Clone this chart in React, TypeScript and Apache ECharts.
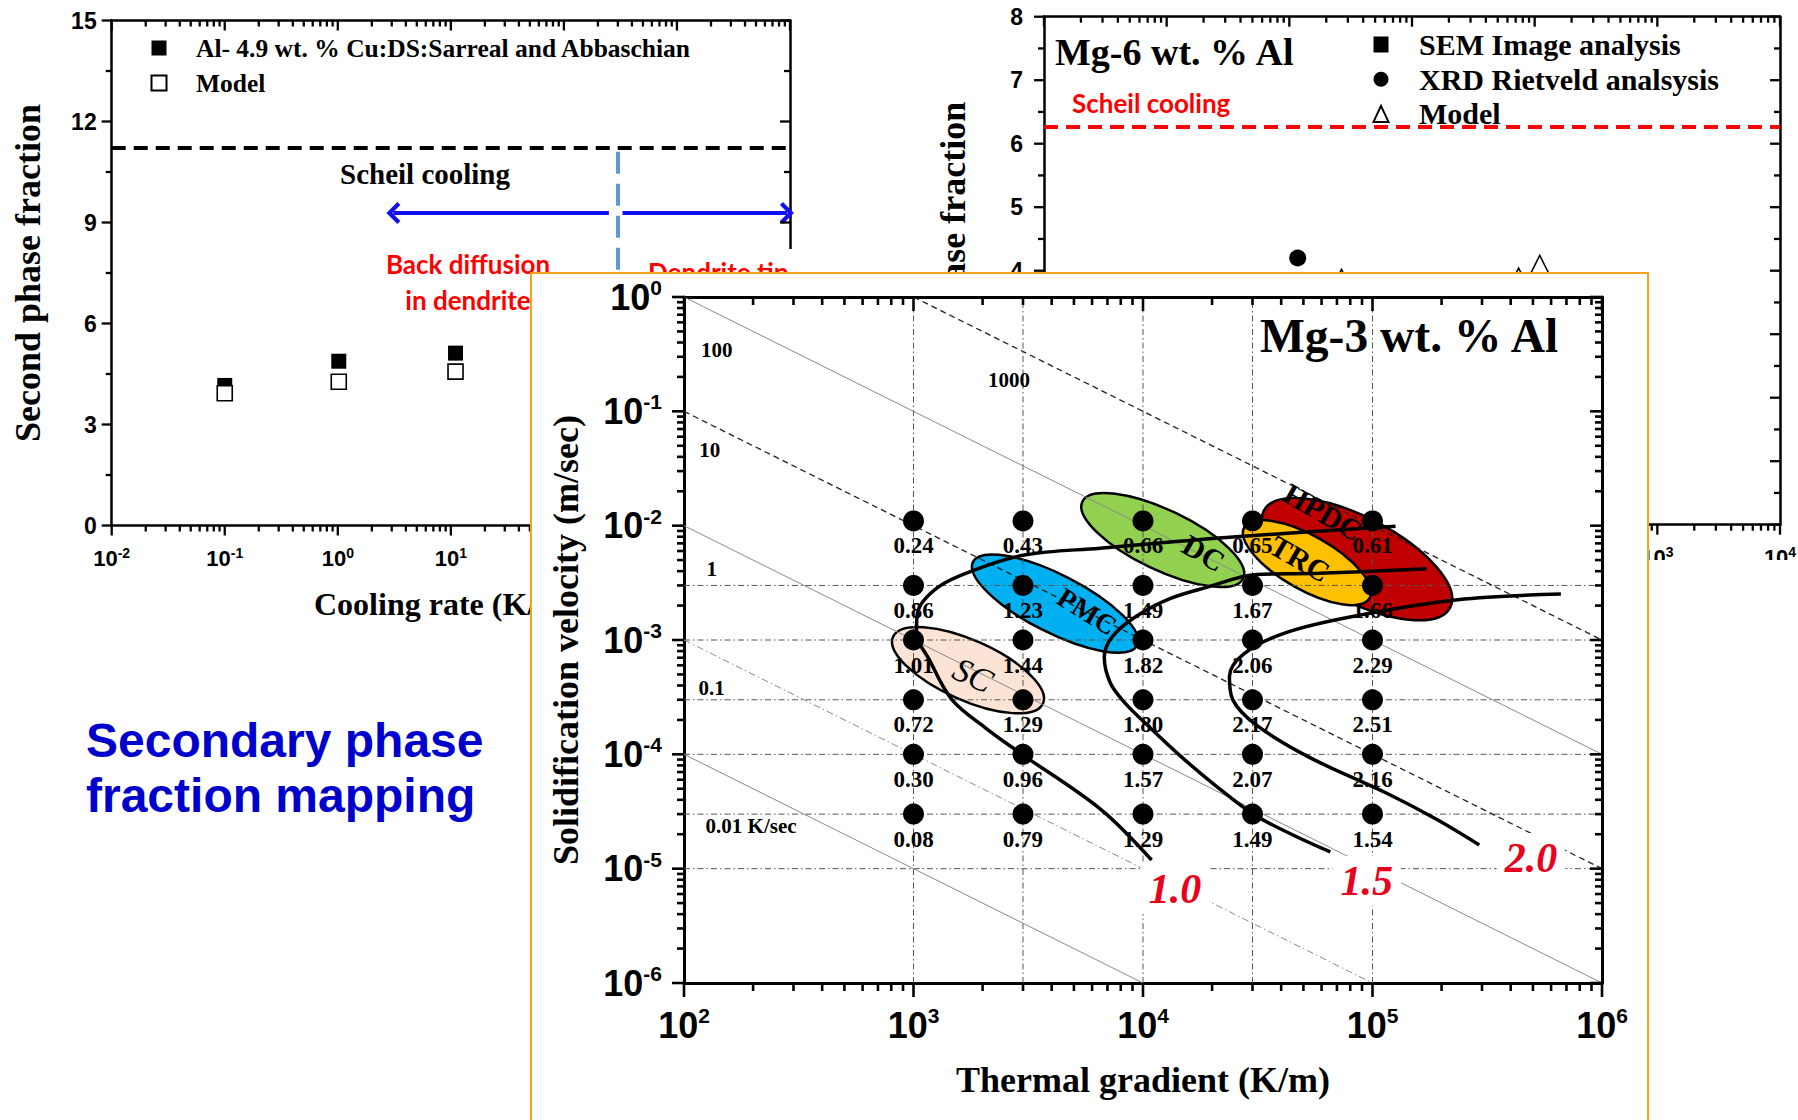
import React, { useEffect, useRef } from 'react';
import * as echarts from 'echarts';

// ---------------- fonts / colours ----------------
const SERIF = "'Liberation Serif', 'Times New Roman', serif";
const SANS = "'Liberation Sans', Arial, sans-serif";
const NARROW = "'Liberation Sans Narrow', 'Liberation Sans', Arial, sans-serif";
const CAL = "Lato, 'Open Sans', sans-serif";
const BLUE = '#1010F0';
const RED = '#FF0000';

// ---------------- panel 1 : Al-4.9 wt.% Cu ----------------
const alCuSeriesNames = ['Al- 4.9 wt. % Cu:DS:Sarreal and Abbaschian', 'Model'];
const alCuRates = [0.1, 1.02, 11];
const alCuMeasured = [4.16, 4.88, 5.12];
const alCuModel = [3.93, 4.27, 4.57];
const alCuScheil = 11.22;
const alCuBoundaryRate = 300;
const alCuBoundaryTop = 11.1;
const alCuArrowLevel = 9.28;
const alCuArrowLeft = [3.1, 250];
const alCuArrowRight = [330, 9400];
const alCuRateExponents = [-2, 4];
const alCuFractionTicks = [0, 15, 3];

// ---------------- panel 2 : Mg-6 wt.% Al ----------------
const mg6SeriesNames = ['SEM Image analysis', 'XRD Rietveld analsysis', 'Model'];
const mg6SemRates = [110];
const mg6SemValues = [3.88];
const mg6XrdRates = [1.17];
const mg6XrdValues = [4.2];
const mg6ModelRates = [2.66, 74, 110];
const mg6ModelValues = [3.88, 3.9, 4.1];
const mg6Scheil = 6.27;
const mg6RateExponents = [-2, 4];
const mg6FractionTicks = [0, 8, 1];

// ---------------- panel 3 : Mg-3 wt.% Al map ----------------
const gradientExponents = [2, 6];
const velocityExponents = [-6, 0];
const mapGradients = [1e3, 3e3, 1e4, 3e4, 1e5];
const mapVelocities = [0.011, 3e-3, 1e-3, 3e-4, 1e-4, 3e-5];
const fractionAt1e3 = [0.24, 0.86, 1.01, 0.72, 0.3, 0.08];
const fractionAt3e3 = [0.43, 1.23, 1.44, 1.29, 0.96, 0.79];
const fractionAt1e4 = [0.66, 1.49, 1.82, 1.8, 1.57, 1.29];
const fractionAt3e4 = [0.65, 1.67, 2.06, 2.17, 2.07, 1.49];
const fractionAt1e5 = [0.61, 1.66, 2.29, 2.51, 2.16, 1.54];
const gridLineGradients = [1e3, 3e3, 1e4, 3e4, 1e5];
const gridLineVelocities = [3e-3, 1e-3, 3e-4, 1e-4, 3e-5, 1e-5];
const coolingRateValues = [1000, 100, 10, 1, 0.1, 0.01];
const coolingRateText = ['1000', '100', '10', '1', '0.1', '0.01 K/sec'];
const coolingRateFrom = [[1e3, 1], [1e2, 1], [1e2, 1e-1], [1e2, 1e-2], [1e2, 1e-3], [1e2, 1e-4]];
const coolingRateTo = [[1e6, 1e-3], [1e6, 1e-4], [1e6, 1e-5], [1e6, 1e-6], [1e5, 1e-6], [1e4, 1e-6]];
const coolingRateLabelAt = [[2606, 0.189], [139, 0.346], [129.5, 0.0463], [132, 4.19e-3], [132, 3.8e-4], [196, 2.37e-5]];
const contourLevels = ['1.0', '1.5', '2.0'];
const contour10 = [[126000, 9.9e-3], [25500, 8.0e-3], [6490, 6.36e-3], [3030, 5.53e-3], [1850, 4.1e-3], [1280, 2.9e-3], [1040, 1.71e-3], [1030, 1.15e-3], [1170, 6.76e-4], [1470, 3.01e-4], [2070, 1.69e-4], [2930, 1.02e-4], [6560, 3.29e-5], [10900, 1.19e-5]];
const contour15 = [[172000, 4.2e-3], [58300, 3.83e-3], [31300, 3.74e-3], [19100, 2.9e-3], [13100, 2.3e-3], [9250, 1.59e-3], [7350, 1.07e-3], [6780, 7.09e-4], [7180, 4.27e-4], [8260, 2.88e-4], [10800, 1.69e-4], [14700, 9.5e-5], [20700, 5.33e-5], [30300, 2.99e-5], [44800, 1.98e-5], [65500, 1.4e-5]];
const contour20 = [[662000, 2.52e-3], [235000, 2.25e-3], [79800, 1.59e-3], [41400, 1.15e-3], [27600, 7.6e-4], [23800, 4.79e-4], [24600, 3.01e-4], [31000, 1.82e-4], [52600, 9.5e-5], [116000, 4.54e-5], [190000, 2.7e-5], [292000, 1.61e-5]];
const contourLabelAt = [[13770, 6.65e-6], [94400, 7.82e-6], [490000, 1.24e-5]];
const processNames = ['SC', 'PMC', 'DC', 'HPDC', 'TRC'];
const processCenters = [[1728, 5.45e-4], [4137, 2.08e-3], [12190, 7.48e-3], [85600, 5.1e-3], [51830, 4.75e-3]];

// ---------------- styles (not data) ----------------
const rateLineStyles = [
  { color: '#222', width: 1.3, type: [6, 4] },
  { color: '#8a8a8a', width: 1, type: 'solid' },
  { color: '#222', width: 1.3, type: [6, 4] },
  { color: '#8a8a8a', width: 1, type: 'solid' },
  { color: '#8a8a8a', width: 1, type: [7, 3, 1.5, 3] },
  { color: '#8a8a8a', width: 1, type: 'solid' },
];
const processStyles = [
  { rx: 82, ry: 30, angle: 24, fill: '#FBE3D5', dx: 5, dy: 5, textAngle: 25, fontSize: 34, fontStyle: 'italic', fontWeight: 'normal' },
  { rx: 92, ry: 29, angle: 27, fill: '#00B0F0', dx: 32, dy: 8, textAngle: 32, fontSize: 28, fontStyle: 'normal', fontWeight: 'bold' },
  { rx: 89, ry: 30, angle: 25.5, fill: '#92D050', dx: 41, dy: 13, textAngle: 30, fontSize: 30, fontStyle: 'normal', fontWeight: 'bold' },
  { rx: 105, ry: 42, angle: 27.5, fill: '#C00000', dx: -34, dy: -47, textAngle: 30, fontSize: 30, fontStyle: 'normal', fontWeight: 'bold' },
  { rx: 72, ry: 27, angle: 29.5, fill: '#FFC000', dx: -7, dy: -4, textAngle: 30, fontSize: 30, fontStyle: 'normal', fontWeight: 'bold' },
];
const CHEVRON = 'path://M0,11 L11,0 L22,11 L19,14 L11,6 L3,14 Z';

const lg = (v: number) => Math.log10(v);

function logLabel(fontSize: number, supSize: number, family: string, margin: number) {
  const base = { fontFamily: family, fontWeight: 'bold', color: '#000' };
  return {
    show: true,
    margin,
    formatter: (v: number) => `{b|10}{s|${Math.round(v)}}`,
    rich: {
      b: { ...base, fontSize, lineHeight: fontSize + 4 },
      s: { ...base, fontSize: supSize, lineHeight: supSize + 2, verticalAlign: 'top' },
    },
  };
}

function frameAxes(dim: 'x' | 'y', range: number[], step: number, cfg: any) {
  const [min, max] = range;
  const p0 = dim === 'x' ? 'bottom' : 'left';
  const p1 = dim === 'x' ? 'top' : 'right';
  const line = { color: '#000', width: cfg.spine };
  const base = {
    type: 'value', gridIndex: 0, min, max, interval: step,
    splitLine: { show: false }, minorSplitLine: { show: false },
    axisTick: { show: false }, minorTick: { show: false },
  };
  const label = cfg.log
    ? logLabel(cfg.fontSize, cfg.supSize, cfg.family, cfg.margin)
    : { show: true, margin: cfg.margin, fontFamily: cfg.family, fontWeight: 'bold', fontSize: cfg.fontSize, color: '#000' };
  return [
    {
      ...base, position: p0,
      axisLine: { show: true, onZero: false, lineStyle: line },
      axisLabel: label,
      name: cfg.name, nameLocation: 'middle', nameGap: cfg.nameGap, nameTextStyle: cfg.nameStyle, nameMoveOverlap: false,
    },
    {
      ...base, position: p1,
      axisLine: { show: true, onZero: false, lineStyle: line },
      axisLabel: { show: false },
    },
  ];
}

function tickPositions(range: number[], step: number, log: boolean) {
  const major: number[] = [];
  const minor: number[] = [];
  for (let v = range[0]; v <= range[1] + 1e-9; v += step) major.push(v);
  if (log) {
    for (let d = range[0]; d < range[1]; d++) for (let k = 2; k <= 9; k++) minor.push(d + Math.log10(k));
  } else {
    for (let v = range[0]; v < range[1]; v += step) minor.push(v + step / 2);
  }
  return { major, minor };
}

// frame ticks: outward on bottom/left, inward on top/right
function frameTicks(xRange: number[], xStep: number, xLog: boolean, yRange: number[], yStep: number, yLog: boolean, len: any) {
  const xt = tickPositions(xRange, xStep, xLog);
  const yt = tickPositions(yRange, yStep, yLog);
  const data: number[][] = [];
  xt.major.forEach((v) => { data.push([v, yRange[0], 0, 0]); data.push([v, yRange[0], 1, 0]); });
  xt.minor.forEach((v) => { data.push([v, yRange[0], 0, 1]); data.push([v, yRange[0], 1, 1]); });
  yt.major.forEach((v) => { data.push([xRange[0], v, 2, 0]); data.push([xRange[0], v, 3, 0]); });
  yt.minor.forEach((v) => { data.push([xRange[0], v, 2, 1]); data.push([xRange[0], v, 3, 1]); });
  return {
    type: 'custom', name: 'frame ticks', xAxisIndex: 0, yAxisIndex: 0, z: 10, silent: true, clip: false,
    data,
    renderItem: (_p: any, api: any) => {
      const x = api.value(0);
      const y = api.value(1);
      const side = api.value(2);
      const minorTick = api.value(3) === 1;
      let p: number[];
      let q: number[];
      if (side === 0) {
        const l = minorTick ? len.xMinor : len.xMajor;
        p = api.coord([x, yRange[0]]);
        q = [p[0], p[1] + l];
      } else if (side === 1) {
        const l = minorTick ? len.xMinor : len.xMajor;
        p = api.coord([x, yRange[1]]);
        q = [p[0], p[1] + l];
      } else if (side === 2) {
        const l = minorTick ? len.yMinor : len.yMajor;
        p = api.coord([xRange[0], y]);
        q = [p[0] - l, p[1]];
      } else {
        const l = minorTick ? len.yMinor : len.yMajor;
        p = api.coord([xRange[1], y]);
        q = [p[0] - l, p[1]];
      }
      return {
        type: 'line',
        shape: { x1: p[0], y1: p[1], x2: q[0], y2: q[1] },
        style: { stroke: '#000', lineWidth: len.width },
      };
    },
  };
}

function legendFormatter(gap: number) {
  return {
    formatter: (name: string) => `{g|}${name}`,
    rich: { g: { width: gap } },
  };
}

function optionA() {
  const arrowLine = { color: BLUE, width: 4, type: 'solid' };
  const lf = legendFormatter(24.5);
  return {
    animation: false,
    backgroundColor: 'transparent',
    grid: { left: 111.7, top: 20.5, width: 678.3, height: 505, containLabel: false, outerBoundsMode: 'none' },
    legend: {
      orient: 'vertical', left: 150.5, top: 35, padding: 0, itemWidth: 15, itemHeight: 15, itemGap: 9,
      selectedMode: false, formatter: lf.formatter,
      textStyle: { fontFamily: SERIF, fontWeight: 'bold', fontSize: 25.5, lineHeight: 26, color: '#000', rich: lf.rich },
      data: alCuSeriesNames,
    },
    xAxis: frameAxes('x', alCuRateExponents, 1, {
      log: true, spine: 2.5, fontSize: 22, supSize: 14, family: NARROW, margin: 20,
      name: 'Cooling rate (K/sec)', nameGap: 62,
      nameStyle: { fontFamily: SERIF, fontWeight: 'bold', fontSize: 32, color: '#000' },
    }),
    yAxis: frameAxes('y', [alCuFractionTicks[0], alCuFractionTicks[1]], alCuFractionTicks[2], {
      log: false, spine: 2.5, fontSize: 23, family: NARROW, margin: 15,
      name: 'Second phase fraction', nameGap: 66,
      nameStyle: { fontFamily: SERIF, fontWeight: 'bold', fontSize: 36, color: '#000' },
    }),
    series: [
      frameTicks(alCuRateExponents, 1, true, [alCuFractionTicks[0], alCuFractionTicks[1]], alCuFractionTicks[2], false,
        { xMajor: 10, xMinor: 6, yMajor: 10, yMinor: 6, width: 2.3 }),
      {
        name: alCuSeriesNames[0], type: 'scatter', xAxisIndex: 0, yAxisIndex: 0, z: 3,
        symbol: 'rect', symbolSize: 15, itemStyle: { color: '#000', opacity: 1 },
        data: alCuRates.map((r, i) => [lg(r), alCuMeasured[i]]),
      },
      {
        name: alCuSeriesNames[1], type: 'scatter', xAxisIndex: 0, yAxisIndex: 0, z: 4,
        symbol: 'rect', symbolSize: 15, itemStyle: { color: '#fff', borderColor: '#000', borderWidth: 1.6, opacity: 1 },
        data: alCuRates.map((r, i) => [lg(r), alCuModel[i]]),
        markLine: {
          silent: true, symbol: ['none', 'none'], label: { show: false },
          data: [
            { yAxis: alCuScheil, lineStyle: { color: '#000', width: 4, type: [14, 8] } },
            [
              { coord: [lg(alCuBoundaryRate), alCuBoundaryTop], lineStyle: { color: '#5B9BD5', width: 4, type: [22, 10] } },
              { coord: [lg(alCuBoundaryRate), 0] },
            ],
            [
              { coord: [lg(alCuArrowLeft[0]), alCuArrowLevel], symbol: CHEVRON, symbolSize: [22, 14], lineStyle: arrowLine, itemStyle: { color: BLUE } },
              { coord: [lg(alCuArrowLeft[1]), alCuArrowLevel], symbol: 'none' },
            ],
            [
              { coord: [lg(alCuArrowRight[0]), alCuArrowLevel], symbol: 'none', lineStyle: arrowLine, itemStyle: { color: BLUE } },
              { coord: [lg(alCuArrowRight[1]), alCuArrowLevel], symbol: CHEVRON, symbolSize: [22, 14] },
            ],
          ],
        },
      },
    ],
    graphic: [
      { type: 'rect', z: 20, shape: { x: 642, y: 249, width: 188, height: 26 }, style: { fill: '#fff' } },
      { type: 'text', z: 21, x: 425, y: 174, style: { text: 'Scheil cooling', fontFamily: SERIF, fontWeight: 'bold', fontSize: 29, fill: '#000', align: 'center', verticalAlign: 'middle' } },
      { type: 'text', z: 21, x: 468, y: 264, style: { text: 'Back diffusion', fontFamily: CAL, fontWeight: 'bold', fontSize: 26, fill: RED, align: 'center', verticalAlign: 'middle' } },
      { type: 'text', z: 21, x: 468, y: 300, style: { text: 'in dendrite', fontFamily: CAL, fontWeight: 'bold', fontSize: 26, fill: RED, align: 'center', verticalAlign: 'middle' } },
      { type: 'text', z: 21, x: 648, y: 272, style: { text: 'Dendrite tip', fontFamily: CAL, fontWeight: 'bold', fontSize: 26, fill: RED, align: 'left', verticalAlign: 'middle' } },
      { type: 'text', z: 21, x: 86, y: 740, style: { text: 'Secondary phase', fontFamily: SANS, fontWeight: 'bold', fontSize: 48, fill: '#0000CC', align: 'left', verticalAlign: 'middle' } },
      { type: 'text', z: 21, x: 86, y: 795.5, style: { text: 'fraction mapping', fontFamily: SANS, fontWeight: 'bold', fontSize: 48, fill: '#0000CC', align: 'left', verticalAlign: 'middle' } },
    ],
  };
}

function optionB() {
  const lf = legendFormatter(25.5);
  return {
    animation: false,
    backgroundColor: 'transparent',
    title: { text: 'Mg-6 wt. % Al', left: 175, top: 32.7, padding: 0, textStyle: { fontFamily: SERIF, fontWeight: 'bold', fontSize: 38, color: '#000' } },
    grid: { left: 164, top: 16.7, width: 736, height: 508, containLabel: false, outerBoundsMode: 'none' },
    legend: {
      orient: 'vertical', left: 492.5, top: 29.5, padding: 0, itemWidth: 15, itemHeight: 16, itemGap: 4.7,
      selectedMode: false, formatter: lf.formatter,
      textStyle: { fontFamily: SERIF, fontWeight: 'bold', fontSize: 30, lineHeight: 30, color: '#000', rich: lf.rich },
      data: mg6SeriesNames,
    },
    xAxis: frameAxes('x', mg6RateExponents, 1, {
      log: true, spine: 2.5, fontSize: 22, supSize: 14, family: NARROW, margin: 20,
      name: 'Cooling rate (K/sec)', nameGap: 62,
      nameStyle: { fontFamily: SERIF, fontWeight: 'bold', fontSize: 32, color: '#000' },
    }),
    yAxis: frameAxes('y', [mg6FractionTicks[0], mg6FractionTicks[1]], mg6FractionTicks[2], {
      log: false, spine: 2.5, fontSize: 23, family: NARROW, margin: 21,
      name: 'Second phase fraction', nameGap: 73,
      nameStyle: { fontFamily: SERIF, fontWeight: 'bold', fontSize: 36, color: '#000' },
    }),
    series: [
      frameTicks(mg6RateExponents, 1, true, [mg6FractionTicks[0], mg6FractionTicks[1]], mg6FractionTicks[2], false,
        { xMajor: 10, xMinor: 6, yMajor: 10, yMinor: 6, width: 2.3 }),
      {
        name: mg6SeriesNames[0], type: 'scatter', xAxisIndex: 0, yAxisIndex: 0, z: 3,
        symbol: 'rect', symbolSize: 15, itemStyle: { color: '#000', opacity: 1 },
        data: mg6SemRates.map((r, i) => [lg(r), mg6SemValues[i]]),
        markLine: {
          silent: true, symbol: ['none', 'none'], label: { show: false },
          data: [{ yAxis: mg6Scheil, lineStyle: { color: RED, width: 4, type: [14, 8] } }],
        },
      },
      {
        name: mg6SeriesNames[1], type: 'scatter', xAxisIndex: 0, yAxisIndex: 0, z: 3,
        symbol: 'circle', symbolSize: 17, itemStyle: { color: '#000', opacity: 1 },
        data: mg6XrdRates.map((r, i) => [lg(r), mg6XrdValues[i]]),
      },
      {
        name: mg6SeriesNames[2], type: 'scatter', xAxisIndex: 0, yAxisIndex: 0, z: 4,
        symbol: 'triangle', symbolSize: 18, itemStyle: { color: '#fff', borderColor: '#000', borderWidth: 1.5, opacity: 1 },
        data: mg6ModelRates.map((r, i) => [lg(r), mg6ModelValues[i]]),
      },
    ],
    graphic: [
      { type: 'text', z: 21, x: 192, y: 103, style: { text: 'Scheil cooling', fontFamily: CAL, fontWeight: 'bold', fontSize: 26, fill: RED, align: 'left', verticalAlign: 'middle' } },
    ],
  };
}

function optionC() {
  const series: any[] = [];
  series.push({
    type: 'custom', name: 'Casting processes', xAxisIndex: 0, yAxisIndex: 0, z: 1, silent: true, clip: false,
    data: processCenters.map((c, i) => [lg(c[0]), lg(c[1]), i]),
    renderItem: (_p: any, api: any) => {
      const i = api.value(2);
      const pt = api.coord([api.value(0), api.value(1)]);
      const s = processStyles[i];
      return {
        type: 'ellipse', x: pt[0], y: pt[1], rotation: (-s.angle * Math.PI) / 180,
        shape: { cx: 0, cy: 0, rx: s.rx, ry: s.ry },
        style: { fill: s.fill, stroke: '#000', lineWidth: 2.5 },
      };
    },
  });
  const gridStyle = { color: '#555', width: 1, type: [6, 3, 1.5, 3] };
  gridLineGradients.forEach((g) => series.push({
    type: 'line', xAxisIndex: 0, yAxisIndex: 0, z: 2, silent: true, symbol: 'none',
    lineStyle: gridStyle, data: [[lg(g), velocityExponents[0]], [lg(g), velocityExponents[1]]],
  }));
  gridLineVelocities.forEach((v) => series.push({
    type: 'line', xAxisIndex: 0, yAxisIndex: 0, z: 2, silent: true, symbol: 'none',
    lineStyle: gridStyle, data: [[gradientExponents[0], lg(v)], [gradientExponents[1], lg(v)]],
  }));
  coolingRateValues.forEach((r, i) => series.push({
    type: 'line', name: `${r} K/sec`, xAxisIndex: 0, yAxisIndex: 0, z: 2, silent: true, symbol: 'none',
    lineStyle: rateLineStyles[i],
    data: [[lg(coolingRateFrom[i][0]), lg(coolingRateFrom[i][1])], [lg(coolingRateTo[i][0]), lg(coolingRateTo[i][1])]],
  }));
  [contour10, contour15, contour20].forEach((pts, i) => series.push({
    type: 'line', name: `fraction ${contourLevels[i]}`, xAxisIndex: 0, yAxisIndex: 0, z: 3, silent: true,
    symbol: 'none', smooth: 0.35, lineStyle: { color: '#000', width: 3.5 },
    data: pts.map((p) => [lg(p[0]), lg(p[1])]),
  }));
  const columns = [fractionAt1e3, fractionAt3e3, fractionAt1e4, fractionAt3e4, fractionAt1e5];
  const dots: number[][] = [];
  mapGradients.forEach((g, gi) => mapVelocities.forEach((v, vi) => dots.push([lg(g), lg(v), columns[gi][vi]])));
  series.push({
    type: 'scatter', name: 'Secondary phase fraction', xAxisIndex: 0, yAxisIndex: 0, z: 4, silent: true,
    symbol: 'circle', symbolSize: 21, itemStyle: { color: '#000', opacity: 1 }, data: dots,
    label: {
      show: true, position: 'bottom', distance: 3, formatter: (p: any) => p.value[2].toFixed(2),
      fontFamily: SERIF, fontWeight: 'bold', fontSize: 23, color: '#000', opacity: 1,
    },
  });
  series.push({
    type: 'scatter', name: 'Rate labels', xAxisIndex: 0, yAxisIndex: 0, z: 5, silent: true,
    symbolSize: 1, itemStyle: { color: 'transparent', opacity: 1 },
    data: coolingRateText.map((t, i) => ({ name: t, value: [lg(coolingRateLabelAt[i][0]), lg(coolingRateLabelAt[i][1])] })),
    label: { show: true, position: 'inside', formatter: '{b}', fontFamily: SERIF, fontWeight: 'bold', fontSize: 21, color: '#000', opacity: 1 },
  });
  series.push({
    type: 'scatter', name: 'Contour labels', xAxisIndex: 0, yAxisIndex: 0, z: 6, silent: true,
    symbolSize: 1, itemStyle: { color: 'transparent', opacity: 1 },
    data: contourLevels.map((t, i) => ({ name: t, value: [lg(contourLabelAt[i][0]), lg(contourLabelAt[i][1])] })),
    label: {
      show: true, position: 'inside', formatter: '{b}', fontFamily: SERIF, fontStyle: 'italic', fontWeight: 'bold',
      fontSize: 42, color: '#E8001C', backgroundColor: '#fff', padding: [4, 8], opacity: 1,
    },
  });
  series.push({
    type: 'custom', name: 'Process names', xAxisIndex: 0, yAxisIndex: 0, z: 6, silent: true, clip: false,
    data: processCenters.map((c, i) => [lg(c[0]), lg(c[1]), i]),
    renderItem: (_p: any, api: any) => {
      const i = api.value(2);
      const pt = api.coord([api.value(0), api.value(1)]);
      const s = processStyles[i];
      return {
        type: 'text', x: pt[0] + s.dx, y: pt[1] + s.dy, rotation: (-s.textAngle * Math.PI) / 180,
        style: {
          text: processNames[i], fontFamily: SERIF, fontSize: s.fontSize, fontWeight: s.fontWeight, fontStyle: s.fontStyle,
          fill: '#000', align: 'center', verticalAlign: 'middle',
        },
      };
    },
  });
  series.push(frameTicks(gradientExponents, 1, true, velocityExponents, 1, true,
    { xMajor: 14, xMinor: 8, yMajor: 12, yMinor: 7, width: 2.6 }));

  return {
    animation: false,
    backgroundColor: '#fff',
    title: { text: 'Mg-3 wt. % Al', left: 728, top: 38, padding: 0, textStyle: { fontFamily: SERIF, fontWeight: 'bold', fontSize: 47.5, color: '#000' } },
    grid: { left: 152, top: 23, width: 918, height: 686, containLabel: false, outerBoundsMode: 'none' },
    xAxis: frameAxes('x', gradientExponents, 1, {
      log: true, spine: 3, fontSize: 36, supSize: 21, family: SANS, margin: 22,
      name: 'Thermal gradient (K/m)', nameGap: 79,
      nameStyle: { fontFamily: SERIF, fontWeight: 'bold', fontSize: 36, color: '#000' },
    }),
    yAxis: frameAxes('y', velocityExponents, 1, {
      log: true, spine: 3, fontSize: 36, supSize: 21, family: SANS, margin: 22,
      name: 'Solidification velocity (m/sec)', nameGap: 100,
      nameStyle: { fontFamily: SERIF, fontWeight: 'bold', fontSize: 36, color: '#000' },
    }),
    series,
  };
}

export default function App() {
  const aRef = useRef<HTMLDivElement>(null);
  const bRef = useRef<HTMLDivElement>(null);
  const cRef = useRef<HTMLDivElement>(null);
  useEffect(() => {
    const a = echarts.init(aRef.current as HTMLDivElement, undefined, { renderer: 'svg' });
    a.setOption(optionA() as any);
    const b = echarts.init(bRef.current as HTMLDivElement, undefined, { renderer: 'svg' });
    b.setOption(optionB() as any);
    const c = echarts.init(cRef.current as HTMLDivElement, undefined, { renderer: 'svg' });
    c.setOption(optionC() as any);
    return () => {
      a.dispose();
      b.dispose();
      c.dispose();
    };
  }, []);
  return (
    <div style={{ position: 'absolute', left: 0, top: 0, width: 1798, height: 1120, overflow: 'hidden', background: '#fff' }}>
      <div ref={aRef} style={{ position: 'absolute', left: 0, top: 0, width: 880, height: 1120 }} />
      <div ref={bRef} style={{ position: 'absolute', left: 880, top: 0, width: 918, height: 560 }} />
      <div style={{ position: 'absolute', left: 530, top: 272, width: 1119, height: 860, border: '2px solid #F7A21B', boxSizing: 'border-box', background: '#fff' }}>
        <div ref={cRef} style={{ width: 1115, height: 856 }} />
      </div>
    </div>
  );
}
